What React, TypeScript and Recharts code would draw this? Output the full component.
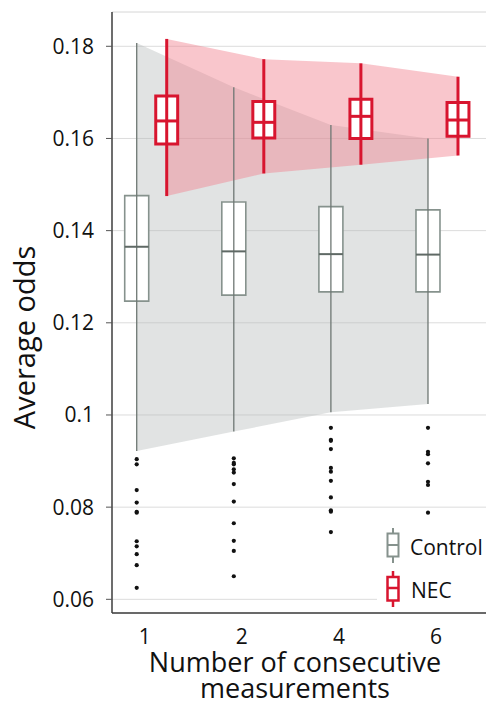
import React from 'react';
import {
  ComposedChart,
  Area,
  Scatter,
  XAxis,
  YAxis,
  CartesianGrid,
  ReferenceArea,
  ReferenceLine,
  Label,
} from 'recharts';

const CATEGORIES = ['1', '2', '4', '6'];

const CONTROL_MIN = [0.0922, 0.0964, 0.1006, 0.1024];
const CONTROL_Q1 = [0.1247, 0.126, 0.1267, 0.1267];
const CONTROL_MEDIAN = [0.1365, 0.1355, 0.1349, 0.1348];
const CONTROL_Q3 = [0.1476, 0.1462, 0.1452, 0.1445];
const CONTROL_MAX = [0.1807, 0.1711, 0.1629, 0.16];

const NEC_MIN = [0.1475, 0.1524, 0.1543, 0.1563];
const NEC_Q1 = [0.1588, 0.1601, 0.16, 0.1605];
const NEC_MEDIAN = [0.1638, 0.1635, 0.1648, 0.164];
const NEC_Q3 = [0.1692, 0.168, 0.1685, 0.1678];
const NEC_MAX = [0.1816, 0.1772, 0.1763, 0.1734];

const CONTROL_OUTLIERS = [
  [0.0904, 0.0893, 0.0837, 0.081, 0.0788, 0.079, 0.0726, 0.0715, 0.0698, 0.0674, 0.0625],
  [0.0906, 0.0896, 0.0893, 0.0882, 0.0875, 0.085, 0.0812, 0.0765, 0.0727, 0.0705, 0.065],
  [0.0972, 0.0946, 0.0944, 0.0926, 0.0885, 0.0877, 0.0857, 0.0821, 0.0793, 0.079, 0.0746],
  [0.0972, 0.092, 0.0915, 0.0895, 0.0855, 0.0848, 0.0788],
];

const Y_TICKS = [0.06, 0.08, 0.1, 0.12, 0.14, 0.16, 0.18];

// layout
const FONT = '"Open Sans", "Noto Sans", sans-serif';
const X_DOMAIN: [number, number] = [-0.409, 3.443];
const Y_DOMAIN: [number, number] = [0.05703, 0.18744];
const SHIFT = 0.1545;
const CTRL_HALF = 0.1236;
const NEC_HALF = 0.113;

const GREY = '#86928d';
const GREY_DARK = '#5f6965';
const RED = '#d8152f';

const greyBand = CATEGORIES.map((_, i) => ({ x: i - SHIFT, range: [CONTROL_MIN[i], CONTROL_MAX[i]] }));
const pinkBand = CATEGORIES.map((_, i) => ({ x: i + SHIFT, range: [NEC_MIN[i], NEC_MAX[i]] }));
const outliers = CONTROL_OUTLIERS.flatMap((vals, i) => vals.map((y) => ({ x: i - SHIFT, y })));

function boxElements(
  key: string,
  xc: number,
  half: number,
  lo: number,
  q1: number,
  med: number,
  q3: number,
  hi: number,
  s: { stroke: string; whisker: string; median: string; w: number; mw: number; ww: number }
) {
  return [
    <ReferenceLine
      key={key + 'w'}
      segment={[{ x: xc, y: lo }, { x: xc, y: hi }]}
      stroke={s.whisker}
      strokeWidth={s.ww}
      ifOverflow="visible"
    />,
    <ReferenceArea
      key={key + 'b'}
      x1={xc - half}
      x2={xc + half}
      y1={q1}
      y2={q3}
      fill="#ffffff"
      fillOpacity={1}
      stroke={s.stroke}
      strokeWidth={s.w}
      ifOverflow="visible"
    />,
    <ReferenceLine
      key={key + 'm'}
      segment={[{ x: xc - half, y: med }, { x: xc + half, y: med }]}
      stroke={s.median}
      strokeWidth={s.mw}
      ifOverflow="visible"
    />,
  ];
}

const ctrlStyle = { stroke: GREY, whisker: '#6e7773', median: GREY_DARK, w: 1.6, mw: 2, ww: 1.3 };
const necStyle = { stroke: RED, whisker: RED, median: RED, w: 3, mw: 3, ww: 3 };

const fmtY = (v: number) => String(Number(v.toFixed(2)));

function XTick({ x, y, payload }: any) {
  return (
    <text x={x - 7} y={y} dy="0.71em" textAnchor="middle" fontSize={21} fontFamily={FONT} fill="#111">
      {CATEGORIES[payload.value]}
    </text>
  );
}

function XTitle({ viewBox }: any) {
  const cx = viewBox.x + viewBox.width / 2 - 4;
  return (
    <text textAnchor="middle" fontSize={27} fontFamily={FONT} fill="#111">
      <tspan x={cx} y={671.5}>Number of consecutive</tspan>
      <tspan x={cx} y={698}>measurements</tspan>
    </text>
  );
}

function YTitle({ viewBox }: any) {
  const cy = viewBox.y + viewBox.height / 2 + 25;
  return (
    <text
      x={35}
      y={cy}
      transform={`rotate(-90, 35, ${cy})`}
      textAnchor="middle"
      fontSize={29}
      fontFamily={FONT}
      fill="#111"
    >
      Average odds
    </text>
  );
}

function LegendOverlay() {
  return (
    <svg
      width={109}
      height={92}
      style={{ position: 'absolute', left: 377, top: 520 }}
    >
      <rect x={0} y={0} width={109} height={92} fill="#fff" />
      <g>
        <line x1={16} x2={16} y1={8} y2={43} stroke={GREY} strokeWidth={2} />
        <rect x={10.5} y={13.5} width={11} height={23} fill="#fff" stroke={GREY} strokeWidth={2} />
        <line x1={10.5} x2={21.5} y1={25} y2={25} stroke={GREY} strokeWidth={2} />
        <text x={33} y={35} fontSize={21} fontFamily={FONT} fill="#111">Control</text>
      </g>
      <g>
        <line x1={16} x2={16} y1={51} y2={87} stroke={RED} strokeWidth={2.5} />
        <rect x={10.5} y={57} width={11} height={23.5} fill="#fff" stroke={RED} strokeWidth={2.5} />
        <line x1={10.5} x2={21.5} y1={68} y2={68} stroke={RED} strokeWidth={2.5} />
        <text x={34} y={77.5} fontSize={21} fontFamily={FONT} fill="#111">NEC</text>
      </g>
    </svg>
  );
}

export default function App() {
  return (
    <div style={{ position: 'absolute', left: 0, top: 0, width: 486, height: 712, background: '#fff' }}>
      <ComposedChart width={486} height={712} margin={{ top: 12, right: 0, bottom: 0, left: 0 }}>
        <CartesianGrid vertical={false} stroke="#dcdcdc" strokeWidth={1} />
        <XAxis
          type="number"
          dataKey="x"
          domain={X_DOMAIN}
          allowDataOverflow
          ticks={[0, 1, 2, 3]}
          tick={<XTick />}
          tickLine={false}
          tickSize={0}
          tickMargin={16}
          height={99}
          axisLine={{ stroke: '#3c3c3c', strokeWidth: 1.5 }}
        >
          <Label content={<XTitle />} />
        </XAxis>
        <YAxis
          type="number"
          domain={Y_DOMAIN}
          allowDataOverflow
          ticks={Y_TICKS}
          tickFormatter={fmtY}
          width={112}
          tickSize={6}
          tickMargin={12}
          tick={{ fontSize: 21, fontFamily: FONT, fill: '#111' }}
          tickLine={{ stroke: '#555' }}
          axisLine={{ stroke: '#3c3c3c', strokeWidth: 1.5 }}
        >
          <Label content={<YTitle />} />
        </YAxis>
        <ReferenceLine y={Y_DOMAIN[1]} stroke="#e8e8e8" />
        <Area
          data={greyBand}
          dataKey="range"
          type="linear"
          fill="#b4b8ba"
          fillOpacity={0.4}
          stroke="none"
          isAnimationActive={false}
          activeDot={false}
          dot={false}
        />
        <Area
          data={pinkBand}
          dataKey="range"
          type="linear"
          fill="rgb(242,129,142)"
          fillOpacity={0.45}
          stroke="none"
          isAnimationActive={false}
          activeDot={false}
          dot={false}
        />
        {CATEGORIES.map((c, i) =>
          boxElements(
            'c' + c,
            i - SHIFT,
            CTRL_HALF,
            CONTROL_MIN[i],
            CONTROL_Q1[i],
            CONTROL_MEDIAN[i],
            CONTROL_Q3[i],
            CONTROL_MAX[i],
            ctrlStyle
          )
        )}
        {CATEGORIES.map((c, i) =>
          boxElements('n' + c, i + SHIFT, NEC_HALF, NEC_MIN[i], NEC_Q1[i], NEC_MEDIAN[i], NEC_Q3[i], NEC_MAX[i], necStyle)
        )}
        <Scatter
          data={outliers}
          dataKey="y"
          isAnimationActive={false}
          shape={(p: any) => <circle cx={p.cx} cy={p.cy} r={2.1} fill="#111" />}
        />
      </ComposedChart>
      <LegendOverlay />
    </div>
  );
}
